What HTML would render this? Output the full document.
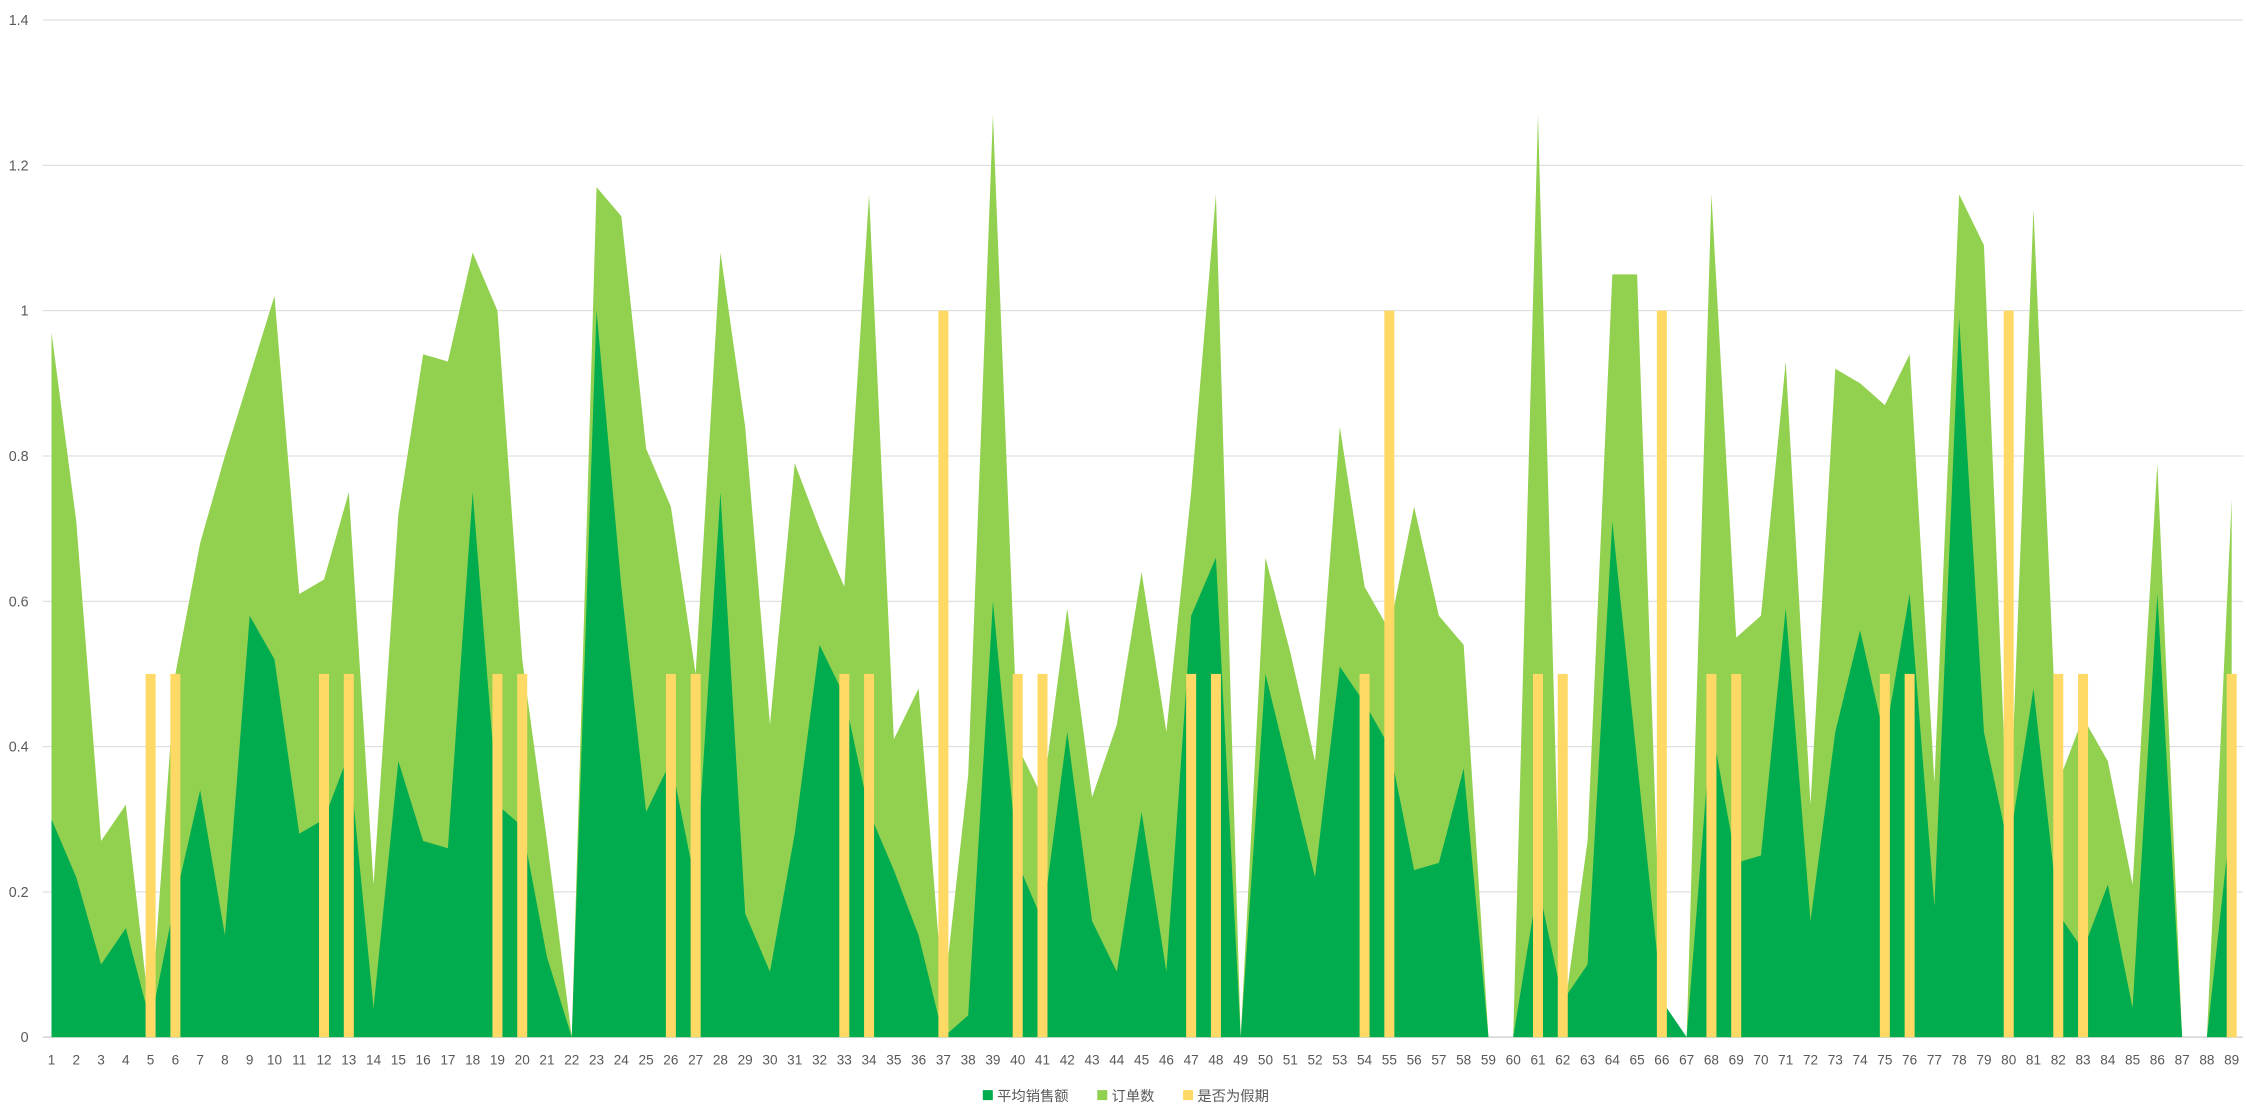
<!DOCTYPE html>
<html><head><meta charset="utf-8"><style>
html,body{margin:0;padding:0;background:#fff;}
svg{display:block;font-family:"Liberation Sans","Noto Sans CJK SC",sans-serif;}
</style></head><body>
<svg id="chart" width="2246" height="1108" viewBox="0 0 1570 774.5" preserveAspectRatio="none" xmlns="http://www.w3.org/2000/svg"></svg>
<script>
const categories = Array.from({length:89},(_,i)=>String(i+1));
const orders = [0.97,0.71,0.27,0.32,0.02,0.5,0.68,0.8,0.91,1.02,0.61,0.63,0.75,0.21,0.72,0.94,0.93,1.08,1.0,0.52,0.27,0,1.17,1.13,0.81,0.73,0.5,1.08,0.84,0.43,0.79,0.7,0.62,1.16,0.41,0.48,0.05,0.36,1.27,0.4,0.33,0.59,0.33,0.43,0.64,0.42,0.75,1.16,0,0.66,0.53,0.38,0.84,0.62,0.56,0.73,0.58,0.54,0,0,1.27,0.02,0.27,1.05,1.05,0.05,0,1.16,0.55,0.58,0.93,0.32,0.92,0.9,0.87,0.94,0.35,1.16,1.09,0.25,1.14,0.35,0.44,0.38,0.21,0.79,0,0,0.74];
const sales = [0.3,0.22,0.1,0.15,0.02,0.19,0.34,0.14,0.58,0.52,0.28,0.3,0.39,0.04,0.38,0.27,0.26,0.75,0.32,0.29,0.11,0,1.0,0.62,0.31,0.38,0.21,0.75,0.17,0.09,0.28,0.54,0.47,0.31,0.23,0.14,0,0.03,0.6,0.24,0.16,0.42,0.16,0.09,0.31,0.09,0.58,0.66,0,0.5,0.36,0.22,0.51,0.46,0.4,0.23,0.24,0.37,0,0,0.21,0.05,0.1,0.71,0.38,0.05,0,0.43,0.24,0.25,0.59,0.16,0.42,0.56,0.41,0.61,0.18,0.99,0.42,0.26,0.48,0.17,0.12,0.21,0.04,0.61,0,0,0.31];
const holidays = [0,0,0,0,0.5,0.5,0,0,0,0,0,0.5,0.5,0,0,0,0,0,0.5,0.5,0,0,0,0,0,0.5,0.5,0,0,0,0,0,0.5,0.5,0,0,1,0,0,0.5,0.5,0,0,0,0,0,0.5,0.5,0,0,0,0,0,0.5,1,0,0,0,0,0,0.5,0.5,0,0,0,1,0,0.5,0.5,0,0,0,0,0,0.5,0.5,0,0,0,1,0,0.5,0.5,0,0,0,0,0,0.5];
const yTicks = [0,0.2,0.4,0.6,0.8,1,1.2,1.4];
const seriesNames = ["平均销售额","订单数","是否为假期"];

const NS="http://www.w3.org/2000/svg";
const svg=document.getElementById('chart');
const X0=36, X1=1560, Y0=725, Y1=14, YMAX=1.4;
const xs=i=>X0+(X1-X0)*i/(categories.length-1);
const ys=v=>Y0-(Y0-Y1)*v/YMAX;
function mk(tag,attrs){const e=document.createElementNS(NS,tag);for(const k in attrs)e.setAttribute(k,attrs[k]);svg.appendChild(e);return e;}

yTicks.forEach(t=>{
  const g=mk('line',{x1:30,x2:1568,y1:ys(t),y2:ys(t),stroke:t===0?'#bfbfbf':'#d9d9d9','stroke-width':0.7});
  
  
  const tx=mk('text',{x:20,y:ys(t)+3.5,'text-anchor':'end','font-size':10,fill:'#595959'});
  tx.textContent=String(t);
  
  
});

function area(vals,color,name){
  let d='M'+xs(0)+','+ys(0);
  vals.forEach((v,i)=>{d+=' L'+xs(i)+','+ys(v);});
  d+=' L'+xs(vals.length-1)+','+ys(0)+' Z';
  const p=mk('path',{d:d,fill:color});
  
  
}
area(orders,'#92d050','orders-area');
area(sales,'#00ac4e','sales-area');

holidays.forEach((v,i)=>{
  if(v<=0)return;
  const r=mk('rect',{x:xs(i)-3.5,y:ys(v),width:7,height:ys(0)-ys(v),fill:'#ffd966'});
  
  
});

categories.forEach((c,i)=>{
  const t=mk('text',{x:xs(i),y:744,'text-anchor':'middle','font-size':9.5,fill:'#595959'});
  t.textContent=c;
  
  
});

const legColors=['#00ac4e','#92d050','#ffd966'];
const legX=[687,767,827];
seriesNames.forEach((n,i)=>{
  const r=mk('rect',{x:legX[i],y:762,width:7,height:7,fill:legColors[i]});
  
  
  const t=mk('text',{x:legX[i]+10,y:769.5,'font-size':10,fill:'#595959'});
  t.textContent=n;
  
  
});
</script>
</body></html>
